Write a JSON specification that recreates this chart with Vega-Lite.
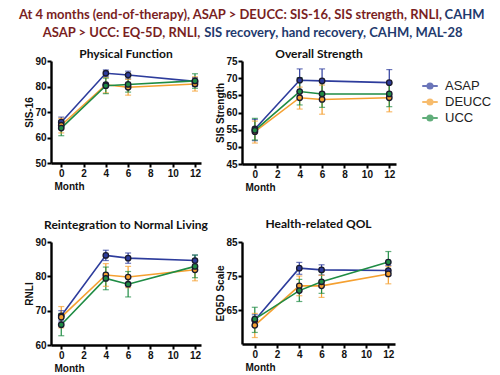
{
  "$schema": "https://vega.github.io/schema/vega-lite/v6.json",
  "padding": {"left": 18, "top": 9, "right": 5, "bottom": 5},
  "title": {
    "text": ["At 4 months (end-of-therapy), ASAP > DEUCC: SIS-16, SIS strength, RNLI,", "\u200B\u2003\u2003\u2006\u2006ASAP > UCC: EQ-5D, RNLI,"],
    "subtitle": ["\u200B\u2003\u2003\u2003\u2003\u2003\u2003\u2003\u2003\u2003\u2003\u2003\u2003\u2003\u2003\u2003\u2003\u2003\u2003\u2003\u2003\u2003\u2003\u2003\u2003\u2003\u2003\u2003\u2003\u2003\u2003\u2003\u2003\u2003\u2003\u2003\u2003\u2003\u2003\u2003\u2003\u2003\u2003\u2003\u2006\u2006\u2006CAHM", "\u200B\u2003\u2003\u2003\u2003\u2003\u2003\u2003\u2003\u2003\u2003\u2003\u2003\u2003\u2003\u2003\u2003\u2003\u2003\u2003SIS recovery, hand recovery, CAHM, MAL-28"],
    "anchor": "start", "align": "left", "frame": "bounds", "dx": -6,
    "font": "Lato", "fontSize": 13, "fontWeight": "bold", "color": "#7a1f1f", "lineHeight": 18,
    "subtitleFont": "Lato", "subtitleFontSize": 13, "subtitleFontWeight": "bold", "subtitleColor": "#1f3a6e", "subtitleLineHeight": 18,
    "subtitlePadding": -31, "offset": 8
  },
  "datasets": {
    "d": [
      {"panel": "pf", "group": "ASAP", "month": 0, "mean": 66, "lo": 64, "hi": 68},
      {"panel": "pf", "group": "ASAP", "month": 4, "mean": 85.2, "lo": 84, "hi": 86.5},
      {"panel": "pf", "group": "ASAP", "month": 6, "mean": 84.5, "lo": 83, "hi": 86},
      {"panel": "pf", "group": "ASAP", "month": 12, "mean": 82, "lo": 80, "hi": 83.5},
      {"panel": "pf", "group": "DEUCC", "month": 0, "mean": 64.8, "lo": 61.8, "hi": 67.5},
      {"panel": "pf", "group": "DEUCC", "month": 4, "mean": 80.7, "lo": 77.5, "hi": 83.5},
      {"panel": "pf", "group": "DEUCC", "month": 6, "mean": 79.7, "lo": 76.6, "hi": 82.8},
      {"panel": "pf", "group": "DEUCC", "month": 12, "mean": 81, "lo": 78.2, "hi": 83.8},
      {"panel": "pf", "group": "UCC", "month": 0, "mean": 63.7, "lo": 60.7, "hi": 66.6},
      {"panel": "pf", "group": "UCC", "month": 4, "mean": 80.3, "lo": 77.2, "hi": 83.3},
      {"panel": "pf", "group": "UCC", "month": 6, "mean": 80.8, "lo": 77.8, "hi": 83.8},
      {"panel": "pf", "group": "UCC", "month": 12, "mean": 82.2, "lo": 79.3, "hi": 85},

      {"panel": "os", "group": "ASAP", "month": 0, "mean": 55.2, "lo": 51.8, "hi": 58},
      {"panel": "os", "group": "ASAP", "month": 4, "mean": 69.4, "lo": 66.1, "hi": 72.7},
      {"panel": "os", "group": "ASAP", "month": 6, "mean": 69.2, "lo": 65.7, "hi": 72.7},
      {"panel": "os", "group": "ASAP", "month": 12, "mean": 68.7, "lo": 64.6, "hi": 72.5},
      {"panel": "os", "group": "DEUCC", "month": 0, "mean": 54.4, "lo": 51.1, "hi": 57.5},
      {"panel": "os", "group": "DEUCC", "month": 4, "mean": 64.3, "lo": 61, "hi": 67.4},
      {"panel": "os", "group": "DEUCC", "month": 6, "mean": 63.8, "lo": 59.5, "hi": 68},
      {"panel": "os", "group": "DEUCC", "month": 12, "mean": 64.3, "lo": 60.2, "hi": 68.3},
      {"panel": "os", "group": "UCC", "month": 0, "mean": 54.8, "lo": 52, "hi": 58.3},
      {"panel": "os", "group": "UCC", "month": 4, "mean": 66.1, "lo": 62.2, "hi": 70.1},
      {"panel": "os", "group": "UCC", "month": 6, "mean": 65.4, "lo": 61.5, "hi": 69.4},
      {"panel": "os", "group": "UCC", "month": 12, "mean": 65.4, "lo": 61.7, "hi": 68.7},

      {"panel": "rn", "group": "ASAP", "month": 0, "mean": 68.5, "lo": 67, "hi": 70},
      {"panel": "rn", "group": "ASAP", "month": 4, "mean": 86.1, "lo": 84.6, "hi": 87.6},
      {"panel": "rn", "group": "ASAP", "month": 6, "mean": 85.3, "lo": 83.8, "hi": 86.8},
      {"panel": "rn", "group": "ASAP", "month": 12, "mean": 84.6, "lo": 83.1, "hi": 86.2},
      {"panel": "rn", "group": "DEUCC", "month": 0, "mean": 68.1, "lo": 65, "hi": 71.2},
      {"panel": "rn", "group": "DEUCC", "month": 4, "mean": 80.4, "lo": 77.1, "hi": 83.7},
      {"panel": "rn", "group": "DEUCC", "month": 6, "mean": 79.8, "lo": 76.7, "hi": 82.9},
      {"panel": "rn", "group": "DEUCC", "month": 12, "mean": 81.9, "lo": 78.7, "hi": 85.1},
      {"panel": "rn", "group": "UCC", "month": 0, "mean": 65.9, "lo": 62.7, "hi": 69.2},
      {"panel": "rn", "group": "UCC", "month": 4, "mean": 79.4, "lo": 76.1, "hi": 82.7},
      {"panel": "rn", "group": "UCC", "month": 6, "mean": 77.7, "lo": 74, "hi": 81.4},
      {"panel": "rn", "group": "UCC", "month": 12, "mean": 82.9, "lo": 79.6, "hi": 86.2},

      {"panel": "eq", "group": "ASAP", "month": 0, "mean": 62, "lo": 60.4, "hi": 63.6},
      {"panel": "eq", "group": "ASAP", "month": 4, "mean": 77.3, "lo": 75.5, "hi": 79},
      {"panel": "eq", "group": "ASAP", "month": 6, "mean": 76.8, "lo": 75.3, "hi": 78.3},
      {"panel": "eq", "group": "ASAP", "month": 12, "mean": 76.6, "lo": 75.1, "hi": 78.1},
      {"panel": "eq", "group": "DEUCC", "month": 0, "mean": 60.5, "lo": 56.9, "hi": 64},
      {"panel": "eq", "group": "DEUCC", "month": 4, "mean": 72.1, "lo": 69.2, "hi": 75},
      {"panel": "eq", "group": "DEUCC", "month": 6, "mean": 72.1, "lo": 68.7, "hi": 75.2},
      {"panel": "eq", "group": "DEUCC", "month": 12, "mean": 75.6, "lo": 72.7, "hi": 77.8},
      {"panel": "eq", "group": "UCC", "month": 0, "mean": 62.3, "lo": 58.4, "hi": 65.8},
      {"panel": "eq", "group": "UCC", "month": 4, "mean": 70.7, "lo": 67.5, "hi": 74},
      {"panel": "eq", "group": "UCC", "month": 6, "mean": 73.3, "lo": 69.9, "hi": 76.3},
      {"panel": "eq", "group": "UCC", "month": 12, "mean": 79.1, "lo": 75.8, "hi": 82.2}
    ]
  },
  "columns": 2,
  "bounds": "flush",
  "spacing": {"row": 78, "column": 41},
  "resolve": {"scale": {"x": "independent", "y": "independent", "color": "independent"}, "legend": {"color": "independent"}},
  "concat": [
    {
      "title": {"text": "Physical Function", "offset": -5},
      "width": 150, "height": 102,
      "data": {"name": "d"},
      "transform": [{"filter": "datum.panel === 'pf'"}],
      "encoding": {
        "x": {"field": "month", "type": "quantitative", "scale": {"domain": [-0.92, 12.54], "nice": false, "zero": false}, "axis": {"values": [0, 2, 4, 6, 8, 10, 12], "title": "Month"}},
        "xOffset": {"field": "group", "type": "nominal", "scale": {"domain": ["ASAP", "DEUCC", "UCC"], "range": [0, 0, 3.5]}},
        "color": {"field": "group", "type": "nominal", "scale": {"domain": ["ASAP", "DEUCC", "UCC"], "range": ["#2d3c9c", "#f5a030", "#1f8c44"]}, "legend": null}
      },
      "layer": [
        {"mark": {"type": "rule", "strokeWidth": 1.2}, "encoding": {"y": {"field": "lo", "type": "quantitative", "title": "SIS-16", "scale": {"domain": [50, 90], "nice": false, "zero": false}, "axis": {"values": [50, 60, 70, 80, 90]}}, "y2": {"field": "hi"}}},
        {"mark": {"type": "tick", "orient": "horizontal", "size": 6, "thickness": 1.2}, "encoding": {"y": {"field": "lo", "type": "quantitative", "title": "SIS-16", "axis": {"values": [50, 60, 70, 80, 90]}}}},
        {"mark": {"type": "tick", "orient": "horizontal", "size": 6, "thickness": 1.2}, "encoding": {"y": {"field": "hi", "type": "quantitative", "title": "SIS-16", "axis": {"values": [50, 60, 70, 80, 90]}}}},
        {"mark": {"type": "line", "strokeWidth": 1.6}, "encoding": {"y": {"field": "mean", "type": "quantitative", "title": "SIS-16", "axis": {"values": [50, 60, 70, 80, 90]}}}},
        {"mark": {"type": "point", "filled": true, "size": 30, "stroke": "#1a1a2e", "strokeWidth": 1.3, "opacity": 1}, "encoding": {"y": {"field": "mean", "type": "quantitative", "title": "SIS-16", "axis": {"values": [50, 60, 70, 80, 90]}}}}
      ]
    },
    {
      "title": {"text": "Overall Strength", "offset": -5},
      "width": 154, "height": 103,
      "data": {"name": "d"},
      "transform": [{"filter": "datum.panel === 'os'"}],
      "encoding": {
        "x": {"field": "month", "type": "quantitative", "scale": {"domain": [-1.15, 12.6], "nice": false, "zero": false}, "axis": {"values": [0, 2, 4, 6, 8, 10, 12], "title": "Month"}},
        "xOffset": {"field": "group", "type": "nominal", "scale": {"domain": ["ASAP", "DEUCC", "UCC"], "range": [0, 0, 3.5]}},
        "color": {"field": "group", "type": "nominal", "scale": {"domain": ["ASAP", "DEUCC", "UCC"], "range": ["#2d3c9c", "#f5a030", "#1f8c44"]}, "legend": {"title": null, "orient": "none", "legendX": 179, "legendY": 16, "symbolType": "M-1,0H-0.33M0.33,0H1M0.33,0A0.33,0.33,0,1,1,-0.33,0A0.33,0.33,0,1,1,0.33,0", "symbolSize": 240, "symbolStrokeWidth": 2, "labelFont": "Liberation Sans", "labelFontSize": 13, "labelColor": "#222", "rowPadding": 0, "labelOffset": 6}}
      },
      "layer": [
        {"mark": {"type": "rule", "strokeWidth": 1.2}, "encoding": {"y": {"field": "lo", "type": "quantitative", "title": "SIS Strength", "scale": {"domain": [45, 75], "nice": false, "zero": false}, "axis": {"values": [45, 50, 55, 60, 65, 70, 75]}}, "y2": {"field": "hi"}}},
        {"mark": {"type": "tick", "orient": "horizontal", "size": 6, "thickness": 1.2}, "encoding": {"y": {"field": "lo", "type": "quantitative", "title": "SIS Strength", "axis": {"values": [45, 50, 55, 60, 65, 70, 75]}}}},
        {"mark": {"type": "tick", "orient": "horizontal", "size": 6, "thickness": 1.2}, "encoding": {"y": {"field": "hi", "type": "quantitative", "title": "SIS Strength", "axis": {"values": [45, 50, 55, 60, 65, 70, 75]}}}},
        {"mark": {"type": "line", "strokeWidth": 1.6}, "encoding": {"y": {"field": "mean", "type": "quantitative", "title": "SIS Strength", "axis": {"values": [45, 50, 55, 60, 65, 70, 75]}}}},
        {"mark": {"type": "point", "filled": true, "size": 30, "stroke": "#1a1a2e", "strokeWidth": 1.3, "opacity": 1}, "encoding": {"y": {"field": "mean", "type": "quantitative", "title": "SIS Strength", "axis": {"values": [45, 50, 55, 60, 65, 70, 75]}}}}
      ]
    },
    {
      "title": {"text": "Reintegration to Normal Living", "offset": 5},
      "width": 150, "height": 103,
      "data": {"name": "d"},
      "transform": [{"filter": "datum.panel === 'rn'"}],
      "encoding": {
        "x": {"field": "month", "type": "quantitative", "scale": {"domain": [-0.92, 12.54], "nice": false, "zero": false}, "axis": {"values": [0, 2, 4, 6, 8, 10, 12], "title": "Month"}},
        "xOffset": {"field": "group", "type": "nominal", "scale": {"domain": ["ASAP", "DEUCC", "UCC"], "range": [0, 0, 3.5]}},
        "color": {"field": "group", "type": "nominal", "scale": {"domain": ["ASAP", "DEUCC", "UCC"], "range": ["#2d3c9c", "#f5a030", "#1f8c44"]}, "legend": null}
      },
      "layer": [
        {"mark": {"type": "rule", "strokeWidth": 1.2}, "encoding": {"y": {"field": "lo", "type": "quantitative", "title": "RNLI", "scale": {"domain": [60, 90], "nice": false, "zero": false}, "axis": {"values": [60, 70, 80, 90]}}, "y2": {"field": "hi"}}},
        {"mark": {"type": "tick", "orient": "horizontal", "size": 6, "thickness": 1.2}, "encoding": {"y": {"field": "lo", "type": "quantitative", "title": "RNLI", "axis": {"values": [60, 70, 80, 90]}}}},
        {"mark": {"type": "tick", "orient": "horizontal", "size": 6, "thickness": 1.2}, "encoding": {"y": {"field": "hi", "type": "quantitative", "title": "RNLI", "axis": {"values": [60, 70, 80, 90]}}}},
        {"mark": {"type": "line", "strokeWidth": 1.6}, "encoding": {"y": {"field": "mean", "type": "quantitative", "title": "RNLI", "axis": {"values": [60, 70, 80, 90]}}}},
        {"mark": {"type": "point", "filled": true, "size": 30, "stroke": "#1a1a2e", "strokeWidth": 1.3, "opacity": 1}, "encoding": {"y": {"field": "mean", "type": "quantitative", "title": "RNLI", "axis": {"values": [60, 70, 80, 90]}}}}
      ]
    },
    {
      "title": {"text": "Health-related QOL", "offset": 6},
      "width": 153, "height": 102,
      "data": {"name": "d"},
      "transform": [{"filter": "datum.panel === 'eq'"}],
      "encoding": {
        "x": {"field": "month", "type": "quantitative", "scale": {"domain": [-1.15, 12.6], "nice": false, "zero": false}, "axis": {"values": [0, 2, 4, 6, 8, 10, 12], "title": "Month"}},
        "xOffset": {"field": "group", "type": "nominal", "scale": {"domain": ["ASAP", "DEUCC", "UCC"], "range": [0, 0, 3.5]}},
        "color": {"field": "group", "type": "nominal", "scale": {"domain": ["ASAP", "DEUCC", "UCC"], "range": ["#2d3c9c", "#f5a030", "#1f8c44"]}, "legend": null}
      },
      "layer": [
        {"mark": {"type": "rule", "strokeWidth": 1.2}, "encoding": {"y": {"field": "lo", "type": "quantitative", "title": "EQ5D Scale", "scale": {"domain": [55, 85], "nice": false, "zero": false}, "axis": {"values": [65, 75, 85]}}, "y2": {"field": "hi"}}},
        {"mark": {"type": "tick", "orient": "horizontal", "size": 6, "thickness": 1.2}, "encoding": {"y": {"field": "lo", "type": "quantitative", "title": "EQ5D Scale", "axis": {"values": [65, 75, 85]}}}},
        {"mark": {"type": "tick", "orient": "horizontal", "size": 6, "thickness": 1.2}, "encoding": {"y": {"field": "hi", "type": "quantitative", "title": "EQ5D Scale", "axis": {"values": [65, 75, 85]}}}},
        {"mark": {"type": "line", "strokeWidth": 1.6}, "encoding": {"y": {"field": "mean", "type": "quantitative", "title": "EQ5D Scale", "axis": {"values": [65, 75, 85]}}}},
        {"mark": {"type": "point", "filled": true, "size": 30, "stroke": "#1a1a2e", "strokeWidth": 1.3, "opacity": 1}, "encoding": {"y": {"field": "mean", "type": "quantitative", "title": "EQ5D Scale", "axis": {"values": [65, 75, 85]}}}}
      ]
    }
  ],
  "config": {
    "view": {"stroke": null},
    "background": "white",
    "title": {"font": "Lato", "fontSize": 12, "fontWeight": "bold", "color": "#111", "anchor": "middle"},
    "axis": {
      "grid": false, "labelOverlap": false,
      "domainColor": "#000", "domainWidth": 2.4,
      "tickColor": "#000", "tickWidth": 2, "tickSize": 4,
      "labelFont": "Liberation Sans", "labelFontSize": 10, "labelFontWeight": "bold", "labelColor": "#111", "labelPadding": 1,
      "titleFont": "Liberation Sans", "titleFontSize": 10, "titleFontWeight": "bold", "titleColor": "#111"
    },
    "axisX": {"titleAnchor": "start", "titleAlign": "left", "titleX": 3, "titlePadding": 3},
    "axisY": {"titlePadding": 0, "minExtent": 0}
  }
}
